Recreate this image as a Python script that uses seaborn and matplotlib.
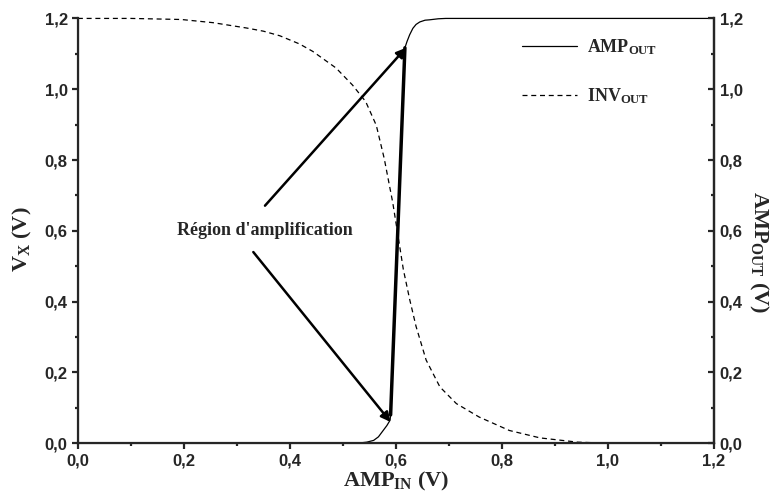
import numpy as np
import matplotlib
matplotlib.use('Agg')
import matplotlib.pyplot as plt
import seaborn as sns
from matplotlib.lines import Line2D

# AMP_OUT courbe (V)
amp_in = [0.0, 0.50, 0.533, 0.545, 0.558, 0.567, 0.576, 0.583, 0.589, 0.590, 0.604, 0.617,
          0.621, 0.626, 0.632, 0.638, 0.645, 0.655, 0.663, 0.68, 0.694, 0.75, 1.2]
amp_out = [0.0, 0.0, 0.001, 0.003, 0.008, 0.018, 0.036, 0.05, 0.065, 0.08, 0.595, 1.117,
           1.135, 1.154, 1.172, 1.183, 1.19, 1.195, 1.196, 1.199, 1.2, 1.2, 1.2]

# INV_OUT courbe (V)
inv_in = [0.0, 0.1, 0.195, 0.255, 0.318, 0.35, 0.381, 0.418, 0.443, 0.487, 0.518, 0.543, 0.563,
          0.578, 0.594, 0.604, 0.614, 0.626, 0.638, 0.657, 0.683, 0.714, 0.757, 0.814, 0.872,
          0.943, 1.0, 1.2]
inv_out = [1.2, 1.2, 1.197, 1.188, 1.173, 1.164, 1.151, 1.128, 1.107, 1.06, 1.012, 0.965, 0.898,
           0.804, 0.68, 0.586, 0.491, 0.406, 0.33, 0.235, 0.159, 0.112, 0.074, 0.036, 0.015,
           0.003, 0.0, 0.0]

# région d'amplification
region_x = [0.590, 0.617]
region_y = [0.08, 1.117]

ticks = [0.0, 0.2, 0.4, 0.6, 0.8, 1.0, 1.2]
tick_labels = ['0,0', '0,2', '0,4', '0,6', '0,8', '1,0', '1,2']

sns.set_style('ticks')
plt.rcParams['font.family'] = ['Liberation Sans', 'DejaVu Sans']
plt.rcParams['mathtext.fontset'] = 'custom'
plt.rcParams['mathtext.rm'] = 'Liberation Serif:bold'
plt.rcParams['mathtext.it'] = 'Liberation Serif:bold'
plt.rcParams['mathtext.bf'] = 'Liberation Serif:bold'

fig, ax = plt.subplots(figsize=(7.71, 4.98), dpi=100)
fig.subplots_adjust(left=0.101, right=0.926, bottom=0.110, top=0.963)

sns.lineplot(x=amp_in, y=amp_out, ax=ax, color='black', lw=0.9, sort=False, estimator=None)
sns.lineplot(x=inv_in, y=inv_out, ax=ax, color='black', lw=0.9, sort=False, estimator=None,
             linestyle=(0, (4, 3)))
sns.lineplot(x=region_x, y=region_y, ax=ax, color='black', lw=2.5, sort=False, estimator=None)
for l in ax.lines:
    l.set_clip_on(False)

ax.set_xlim(0, 1.2)
ax.set_ylim(0, 1.2)

arrow = dict(arrowstyle='-|>', color='black', lw=1.8, mutation_scale=14, shrinkA=0, shrinkB=0)
ax.annotate('', xy=(0.619, 1.117), xytext=(0.353, 0.671), arrowprops=arrow)
ax.annotate('', xy=(0.590, 0.06), xytext=(0.331, 0.540), arrowprops=arrow)
ax.text(0.352, 0.6, "Région d'amplification", family='Liberation Serif', fontweight='bold',
        fontsize=13, ha='center', va='center')

ax.spines['top'].set_visible(False)
for side in ['left', 'bottom', 'right']:
    ax.spines[side].set_linewidth(1.6)

ax.set_xticks(ticks)
ax.set_xticklabels(tick_labels)
ax.set_yticks(ticks)
ax.set_yticklabels(tick_labels)
ax.set_xticks(np.arange(0.1, 1.2, 0.2), minor=True)
ax.set_yticks(np.arange(0.1, 1.2, 0.2), minor=True)
ax.tick_params(which='major', direction='out', length=4.3, width=1.6, labelsize=12, pad=3)
ax.tick_params(which='minor', direction='out', length=2.5, width=1.6)
for lab in ax.get_xticklabels() + ax.get_yticklabels():
    lab.set_fontweight('bold')

ax2 = ax.twinx()
ax2.set_ylim(0, 1.2)
ax2.set_yticks(ticks)
ax2.set_yticklabels(tick_labels)
ax2.set_yticks(np.arange(0.1, 1.2, 0.2), minor=True)
ax2.tick_params(which='major', direction='in', length=4.3, width=1.6, labelsize=12, pad=4)
ax2.tick_params(which='minor', direction='in', length=2.5, width=1.6)
ax2.spines['top'].set_visible(False)
ax2.spines['right'].set_linewidth(1.6)
for lab in ax2.get_yticklabels():
    lab.set_fontweight('bold')

lab_font = dict(family='Liberation Serif', fontweight='bold', fontsize=16)
ax.set_xlabel(r'$\mathrm{AMP}_{\mathrm{IN}}$ (V)', labelpad=1, **lab_font)
ax.set_ylabel(r'$\mathrm{V}_{\mathrm{X}}$ (V)', va='center', **lab_font)
ax.yaxis.set_label_coords(-0.087, 0.48)
ax2.set_ylabel(r'$\mathrm{AMP}_{\mathrm{OUT}}$ (V)', rotation=270, va='center', **lab_font)
ax2.yaxis.set_label_coords(1.07, 0.45)

handles = [Line2D([], [], color='black', lw=0.9),
           Line2D([], [], color='black', lw=0.9, linestyle=(0, (4, 3)))]
ax.legend(handles, [r'$\mathrm{AMP}_{\mathrm{OUT}}$', r'$\mathrm{INV}_{\mathrm{OUT}}$'],
          loc='upper left', bbox_to_anchor=(0.699, 0.955), frameon=False,
          borderpad=0, borderaxespad=0, handlelength=3, handletextpad=0.6,
          labelspacing=1.6, fontsize=13)

fig.savefig('out.png', dpi=100)
